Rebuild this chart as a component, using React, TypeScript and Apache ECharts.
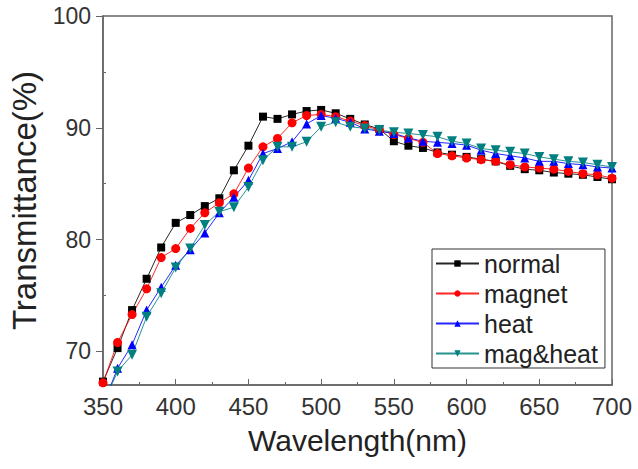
import React, { useEffect, useRef } from "react";
import * as echarts from "echarts";

const wavelengths = [350, 360, 370, 380, 390, 400, 410, 420, 430, 440, 450, 460, 470, 480, 490, 500, 510, 520, 530, 540, 550, 560, 570, 580, 590, 600, 610, 620, 630, 640, 650, 660, 670, 680, 690, 700];

const normal = [67.3, 70.3, 73.7, 76.5, 79.3, 81.5, 82.2, 83.0, 83.7, 86.2, 88.4, 91.0, 90.8, 91.2, 91.5, 91.6, 91.3, 90.8, 90.3, 89.9, 88.8, 88.4, 88.2, 87.8, 87.6, 87.4, 87.2, 87.0, 86.6, 86.3, 86.2, 86.0, 85.9, 85.8, 85.6, 85.4];
const magnet = [67.2, 70.8, 73.3, 75.6, 78.4, 79.2, 81.0, 82.4, 83.3, 84.1, 86.4, 88.3, 89.05, 90.45, 91.1, 91.2, 91.0, 90.6, 90.2, 89.8, 89.4, 89.05, 88.7, 87.7, 87.5, 87.3, 87.15, 87.0, 86.7, 86.5, 86.4, 86.3, 86.1, 85.9, 85.8, 85.5];
const heat = [65.2, 68.5, 70.6, 73.7, 75.75, 77.7, 79.1, 80.6, 82.4, 83.8, 85.3, 87.7, 88.15, 88.75, 90.35, 91.1, 90.85, 90.5, 89.9, 89.7, 89.5, 89.1, 88.8, 88.7, 88.6, 88.45, 88.0, 87.7, 87.5, 87.3, 87.0, 87.0, 86.8, 86.7, 86.5, 86.4];
const magHeat = [65.3, 68.2, 69.7, 73.1, 75.2, 77.5, 79.2, 81.3, 82.5, 82.9, 84.7, 87.1, 88.3, 88.3, 88.75, 90.1, 90.5, 90.1, 89.95, 89.8, 89.6, 89.5, 89.35, 89.2, 88.8, 88.6, 88.15, 88.0, 87.85, 87.7, 87.4, 87.2, 87.0, 86.9, 86.7, 86.5];

const yMajorTicks = [70, 80, 90, 100];
const yMinorTicks = [75, 85, 95];

const FONT = "'Liberation Sans', Arial, sans-serif";

function pairs(vals: number[]) {
  return wavelengths.map((w, i) => [w, vals[i]]);
}

export default function App() {
  const ref = useRef<HTMLDivElement>(null);
  useEffect(() => {
    if (!ref.current) return;
    const chart = echarts.init(ref.current, null, { renderer: "svg" });
    const mk = (name: string, vals: number[], color: string, symbol: string, size: number, rotate = 0) => ({
      name,
      type: "line",
      data: pairs(vals),
      symbol,
      symbolSize: size,
      symbolRotate: rotate,
      showAllSymbol: true,
      clip: true,
      lineStyle: { color, width: 1, opacity: 0.85 },
      itemStyle: { color, borderWidth: 0 },
    });
    chart.setOption({
      animation: false,
      backgroundColor: "#fff",
      grid: {
        left: 95,
        right: 26,
        top: 16,
        bottom: 84,
        show: true,
        borderColor: "#666",
        borderWidth: 1.5,
        backgroundColor: "transparent",
      },
      legend: {
        orient: "vertical",
        left: 432,
        top: 249,
        padding: [2, 7, 2, 3],
        itemGap: 5,
        itemWidth: 43,
        itemHeight: 8,
        borderColor: "#333",
        borderWidth: 1,
        textStyle: { fontFamily: FONT, fontSize: 25, color: "#222", lineHeight: 25 },
        data: ["normal", "magnet", "heat", "mag&heat"],
      },
      xAxis: {
        type: "value",
        min: 350,
        max: 700,
        interval: 50,
        name: "Wavelength(nm)",
        nameLocation: "middle",
        nameGap: 40,
        nameTextStyle: { fontFamily: FONT, fontSize: 30, color: "#222" },
        axisLine: { show: true, lineStyle: { color: "#666", width: 1.5 } },
        axisTick: { show: true, inside: true, length: 6, lineStyle: { color: "#666" } },
        minorTick: { show: true, splitNumber: 2, length: 3, lineStyle: { color: "#666" } },
        axisLabel: { fontFamily: FONT, fontSize: 24, color: "#333", margin: 9 },
        splitLine: { show: false },
      },
      yAxis: [
        {
          type: "value",
          min: 67,
          max: 100,
          name: "Transmittance(%)",
          nameLocation: "middle",
          nameGap: 62,
          nameTextStyle: { fontFamily: FONT, fontSize: 33, color: "#222" },
          axisLine: { show: true, lineStyle: { color: "#666", width: 1.5 } },
          axisTick: { show: true, inside: false, length: 7, customValues: yMajorTicks, lineStyle: { color: "#666" } },
          axisLabel: { fontFamily: FONT, fontSize: 23, color: "#333", margin: 12, customValues: yMajorTicks },
          splitLine: { show: false },
        },
        {
          type: "value",
          min: 67,
          max: 100,
          position: "left",
          axisLine: { show: false },
          axisTick: { show: true, inside: true, length: 3, customValues: yMinorTicks, lineStyle: { color: "#666" } },
          axisLabel: { show: false, customValues: yMinorTicks },
          splitLine: { show: false },
        },
      ],
      series: [
        mk("normal", normal, "#000000", "rect", 8),
        mk("magnet", magnet, "#ff0000", "circle", 9),
        mk("heat", heat, "#0000ff", "triangle", 9),
        mk("mag&heat", magHeat, "#008080", "triangle", 10, 180),
      ],
    });
    return () => chart.dispose();
  }, []);
  return <div ref={ref} style={{ width: 638, height: 469, position: "absolute", left: 0, top: 0 }} />;
}
